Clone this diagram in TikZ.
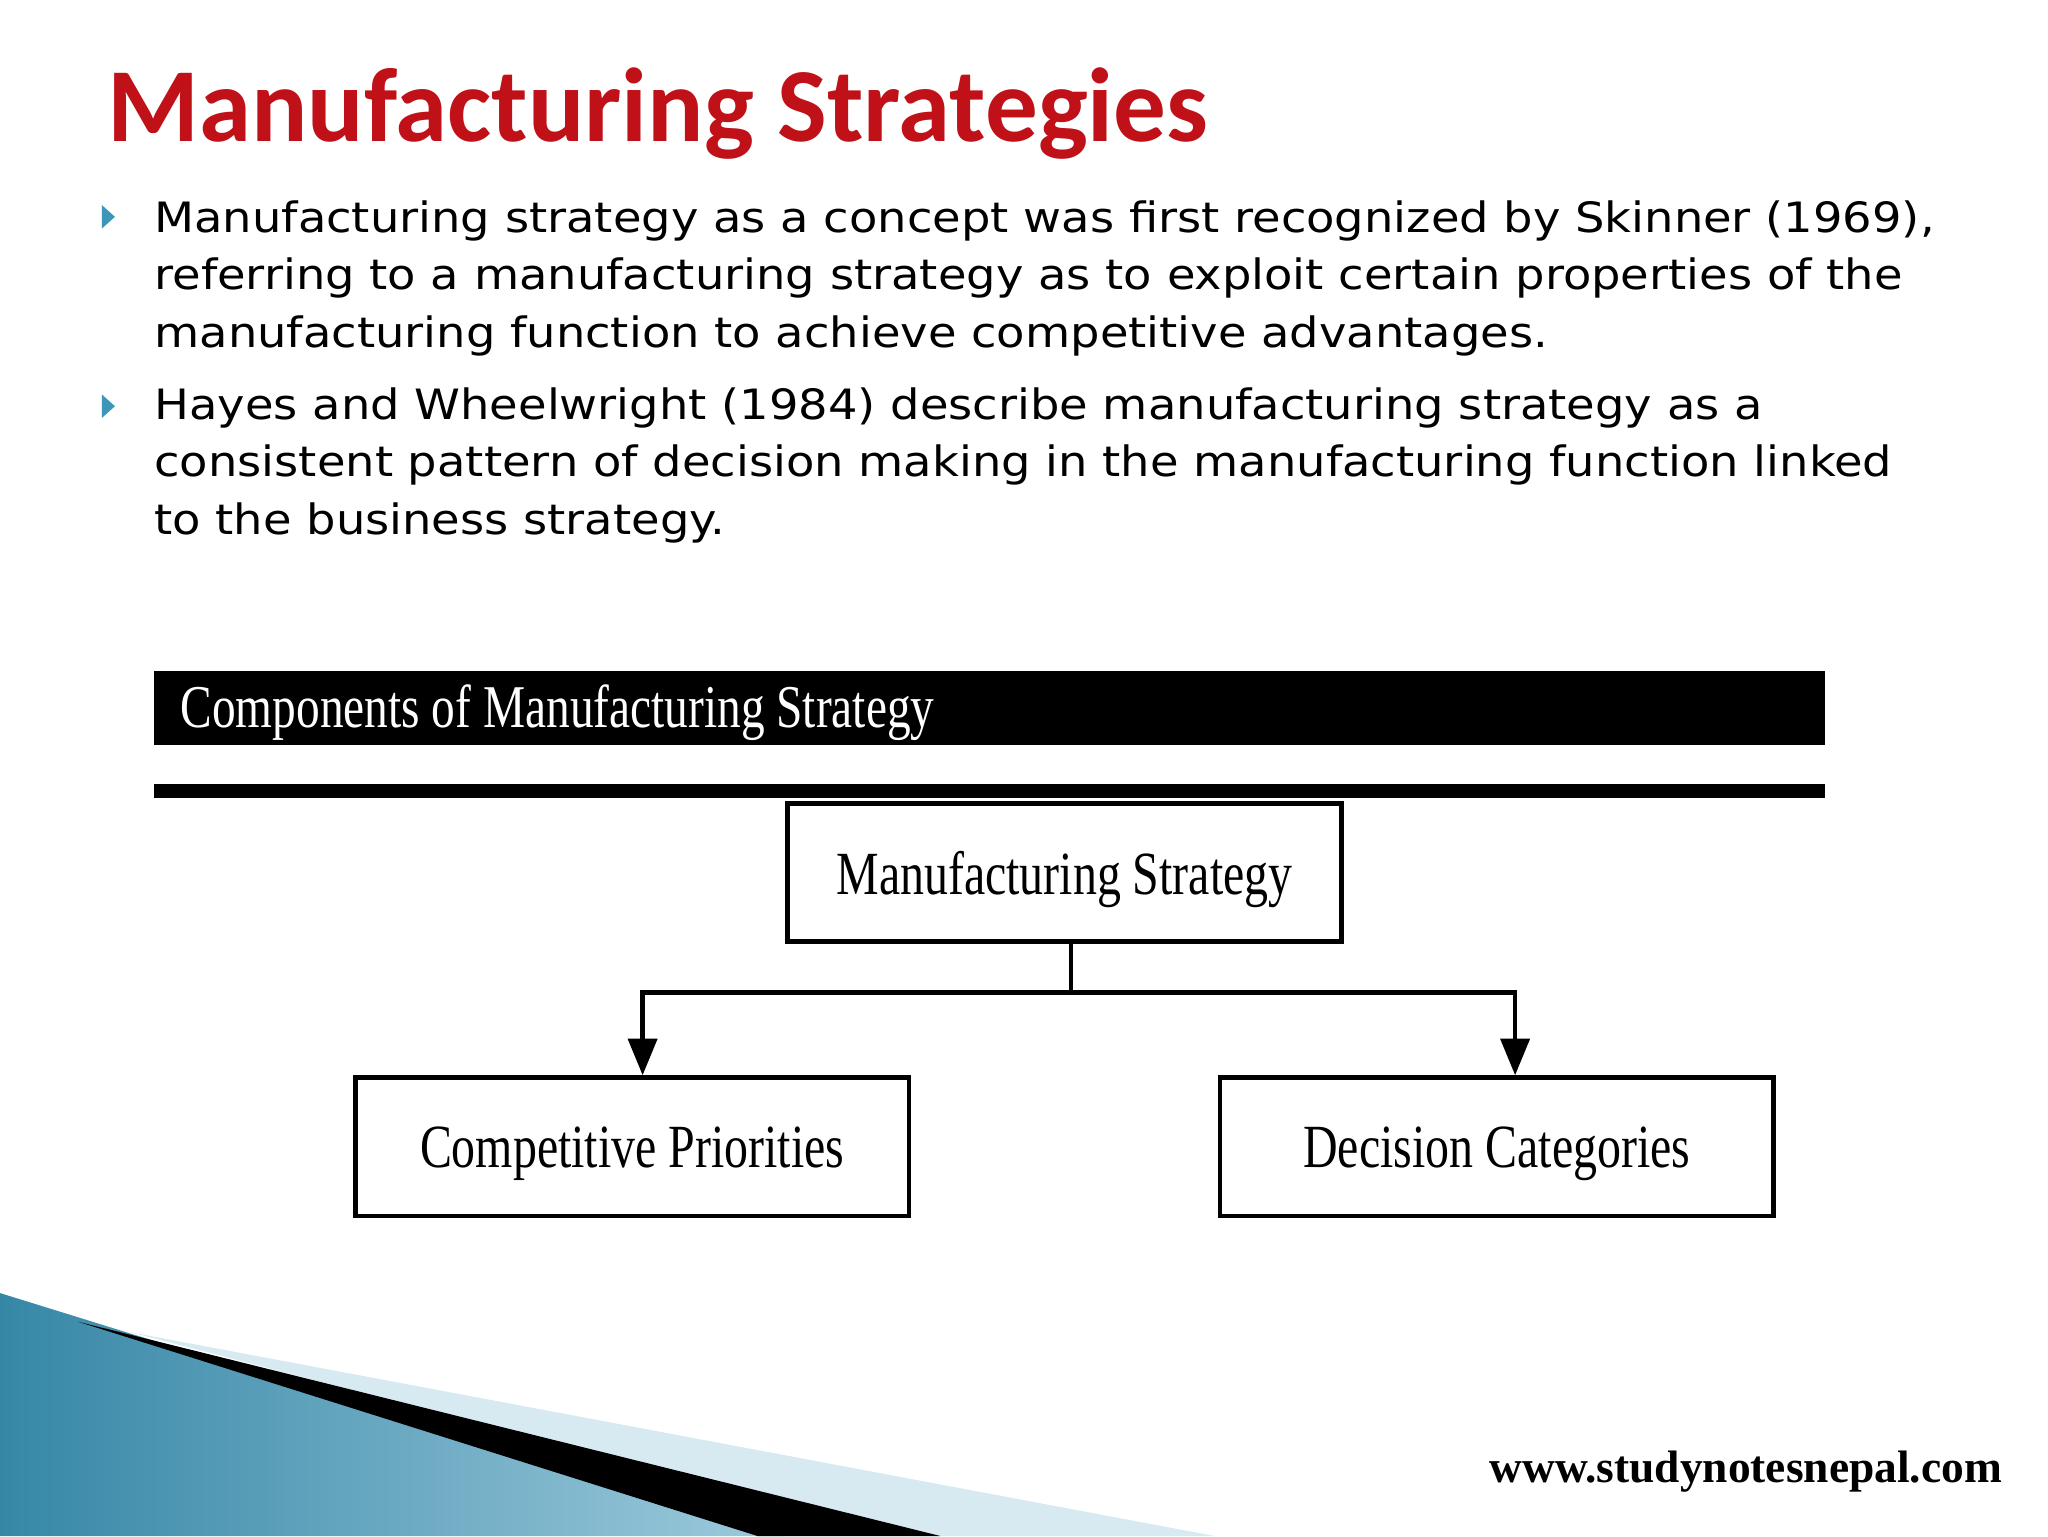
\documentclass[tikz,border=0pt]{standalone}
\usetikzlibrary{arrows.meta}
\usepackage{fontspec}
\setmainfont[FakeStretch=1.11]{DejaVu Sans}
\newfontfamily\titlefont{Carlito}
\newfontfamily\diagfont[FakeStretch=0.78]{Liberation Serif}
\newfontfamily\urlfont{Liberation Serif}
\definecolor{titlered}{RGB}{192,16,24}
\definecolor{teal}{RGB}{60,150,185}
\begin{document}
\begin{tikzpicture}[x=1pt,y=-1pt,
  box/.style={draw,line width=3.5pt,minimum width=424pt,minimum height=106pt,inner sep=0pt,text depth=0pt,font=\diagfont\fontsize{47}{50}\selectfont},
  body/.style={anchor=base west,inner sep=0pt,font=\fontsize{32}{36}\selectfont},
  bul/.style={fill=teal}]
\useasboundingbox (0,0) rectangle (1568,1176);
\fill[white] (0,0) rectangle (1568,1176);
% decoration
\shade[left color=teal!90!black,right color=teal!50] (0,990) -- (600,1176) -- (0,1176) -- cycle;
\fill[teal!20] (100,1020) -- (930,1176) -- (700,1176) -- cycle;
\fill[black] (60,1012) -- (720,1176) -- (580,1176) -- cycle;
% title
\node[anchor=base west,inner sep=0pt,text=titlered,font=\titlefont\bfseries\fontsize{80.5}{84}\selectfont] (title) at (82,108) {Manufacturing Strategies};
% bullets
\fill[bul] (78,157) -- (88,166) -- (78,175) -- cycle;
\fill[bul] (78,302) -- (88,311) -- (78,320) -- cycle;
\node[body] (l1) at (118,178) {Manufacturing strategy as a concept was first recognized by Skinner (1969),};
\node[body] (l2) at (118,222) {referring to a manufacturing strategy as to exploit certain properties of the};
\node[body] (l3) at (118,266) {manufacturing function to achieve competitive advantages.};
\node[body] (l4) at (118,321) {Hayes and Wheelwright (1984) describe manufacturing strategy as a};
\node[body] (l5) at (118,365) {consistent pattern of decision making in the manufacturing function linked};
\node[body] (l6) at (118,409) {to the business strategy.};
% diagram
\fill[black] (118,514) rectangle (1397,570);
\node[anchor=west,inner sep=0pt,text=white,font=\diagfont\fontsize{46.5}{50}\selectfont] (comp) at (138,546) {Components of Manufacturing Strategy};
\fill[black] (118,600) rectangle (1397,611);
\node[box] (ms) at (815,668) {Manufacturing Strategy};
\node[box] (cp) at (484,878) {Competitive Priorities};
\node[box] (dc) at (1146,878) {Decision Categories};
\coordinate (j) at (820,760);
\draw[line width=3.5pt] (ms.south -| j) -- (j);
\draw[line width=3.5pt,-{Triangle[length=28pt,width=22pt]}] (j) -| (cp.north -| 492,0);
\draw[line width=3.5pt,-{Triangle[length=28pt,width=22pt]}] (j) -| (dc.north -| 1160,0);
\node[anchor=base east,inner sep=0pt,font=\urlfont\bfseries\fontsize{34.8}{38}\selectfont] (url) at (1533,1135) {www.studynotesnepal.com};
\end{tikzpicture}
\end{document}
